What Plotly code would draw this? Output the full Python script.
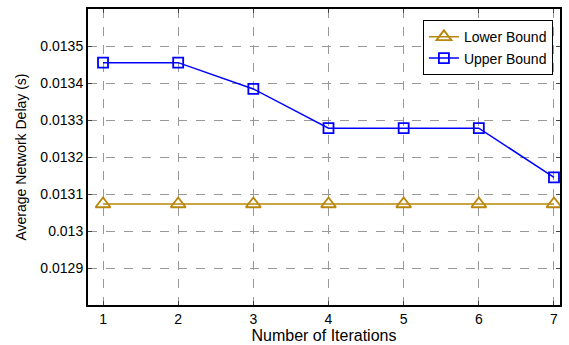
import plotly.graph_objects as go

iterations = [1, 2, 3, 4, 5, 6, 7]
lower_bound = [0.013073, 0.013073, 0.013073, 0.013073, 0.013073, 0.013073, 0.013073]
upper_bound = [0.013455, 0.013455, 0.013384, 0.013278, 0.013278, 0.013278, 0.013145]
y_ticks = [0.0129, 0.013, 0.0131, 0.0132, 0.0133, 0.0134, 0.0135]
y_tick_labels = ["0.0129", "0.013", "0.0131", "0.0132", "0.0133", "0.0134", "0.0135"]

fig = go.Figure()
fig.add_trace(go.Scatter(
    x=iterations, y=lower_bound, name="Lower Bound", mode="lines+markers",
    line=dict(color="#B8860B", width=1.5),
    marker=dict(symbol="triangle-up-open", size=13, color="#B8860B", line=dict(width=1.8)),
))
fig.add_trace(go.Scatter(
    x=iterations, y=upper_bound, name="Upper Bound", mode="lines+markers",
    line=dict(color="#0000FF", width=1.5),
    marker=dict(symbol="square-open", size=10, color="#0000FF", line=dict(width=1.8)),
))

font = "Liberation Sans, Arial, sans-serif"
fig.update_layout(
    width=569, height=345,
    margin=dict(l=88, r=7, t=7, b=35),
    plot_bgcolor="white", paper_bgcolor="white",
    font=dict(family=font, size=14, color="black"),
    showlegend=True,
    legend=dict(
        x=0.985, y=0.962, xanchor="right", yanchor="top",
        bordercolor="black", borderwidth=1, bgcolor="white",
        font=dict(size=14), tracegroupgap=0, itemwidth=30,
    ),
)
fig.update_xaxes(
    range=[0.8, 7.08], tickvals=iterations, ticks="inside", ticklen=4,
    showline=True, linecolor="black", linewidth=2, mirror="ticks",
    showgrid=True, gridcolor="#999999", griddash="dash", gridwidth=1,
    zeroline=False,
    title=dict(text="Number of Iterations", standoff=0, font=dict(size=16)),
    tickfont=dict(size=14),
)
fig.update_yaxes(
    range=[0.0128, 0.0136], tickvals=y_ticks, ticktext=y_tick_labels,
    ticks="inside", ticklen=4,
    showline=True, linecolor="black", linewidth=2, mirror="ticks",
    showgrid=True, gridcolor="#999999", griddash="dash", gridwidth=1,
    zeroline=False,
    title=dict(text="Average Network Delay (s)", standoff=10, font=dict(size=14)),
    tickfont=dict(size=14),
)

fig.write_html("out.html", config={"displayModeBar": False})

with open("out.html", "r", encoding="utf-8") as f:
    html = f.read()
html = html.replace("<head>", "<head><style>html,body{margin:0;padding:0;overflow:hidden;}</style>", 1)
with open("out.html", "w", encoding="utf-8") as f:
    f.write(html)
